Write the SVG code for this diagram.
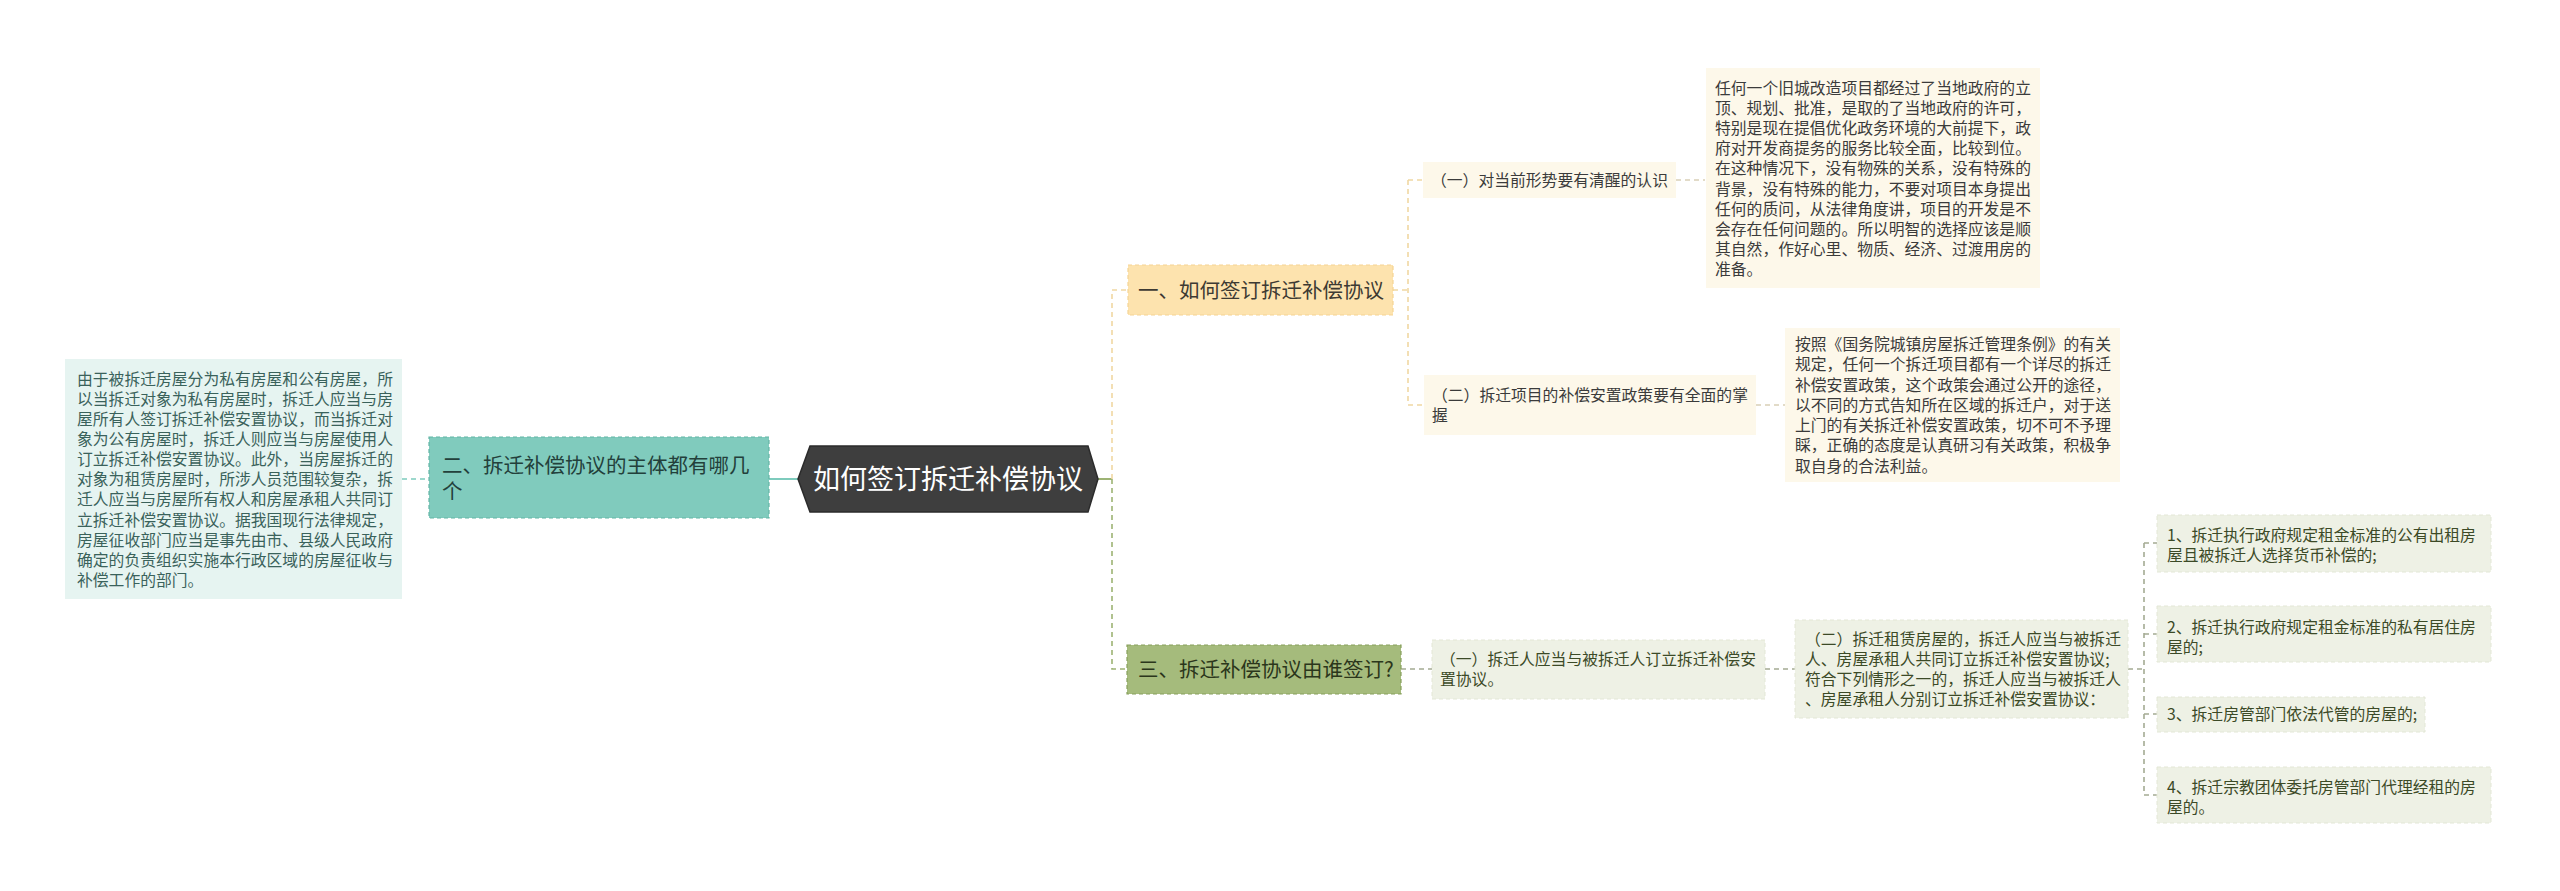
<svg xmlns="http://www.w3.org/2000/svg" width="2560" height="891" viewBox="0 0 2560 891">
<style>
text{font-family:"Noto Sans CJK SC","Noto Sans",sans-serif;}
.t16{font-size:15.8px;}
.t20{font-size:20.5px;}
.c{stroke-width:1.6;fill:none;stroke-dasharray:5,4;}
.or{stroke:#f0d8a2;}
.gr{stroke:#9db374;}
.gy{stroke:#a4ab93;}
.tl{stroke:#7ecbbd;}
.bg{stroke:#d9cfb6;}
.cream{fill:#fdf8ea;}
.olive{fill:#eef1e5;stroke:#e3e7d6;stroke-width:1;stroke-dasharray:4,3;}
.dk{fill:#3b3b3b;}
.od{fill:#3c4a27;}
</style>
<rect width="2560" height="891" fill="#ffffff"/>
<g id="connectors">
  <line x1="769" y1="479" x2="800" y2="479" stroke="#7ecbbd" stroke-width="2"/>
  <line x1="402" y1="479" x2="429" y2="479" class="c tl"/>
  <line x1="1098" y1="479" x2="1112" y2="479" stroke="#9db374" stroke-width="2"/>
  <path d="M1112 479 V290 H1128" class="c or"/>
  <path d="M1112 479 V669 H1127" class="c gr"/>
  <path d="M1393 290 H1408 M1408 180 V405 M1408 180 H1423 M1408 405 H1424" class="c or"/>
  <line x1="1676" y1="180" x2="1705" y2="180" class="c bg"/>
  <line x1="1756" y1="405" x2="1785" y2="405" class="c bg"/>
  <line x1="1401" y1="669" x2="1432" y2="669" class="c gy"/>
  <line x1="1765" y1="669" x2="1795" y2="669" class="c gy"/>
  <path d="M2128 669 H2144 M2144 543 V795 M2144 543 H2157 M2144 634 H2157 M2144 714 H2157 M2144 795 H2157" class="c gy"/>
</g>
<g id="center">
  <polygon points="798,479 810,446 1088,446 1098,479 1088,512 810,512" fill="#3e3e3e" stroke="#2b2b2b" stroke-width="1.5"/>
  <text x="948" y="489" font-size="27" fill="#ffffff" text-anchor="middle">如何签订拆迁补偿协议</text>
</g>
<g id="node-left">
  <rect x="429" y="437" width="340" height="81" fill="#80cbbd" stroke="#62b5a5" stroke-width="1.2" stroke-dasharray="4,3"/>
  <text class="t20" fill="#23403b"><tspan x="442" y="473">二、拆迁补偿协议的主体都有哪几</tspan><tspan x="442" y="499">个</tspan></text>
</g>
<g id="text-left">
  <rect x="65" y="359" width="337" height="240" fill="#e6f4f1"/>
  <text class="t16" fill="#3a625b">
    <tspan x="77" y="385">由于被拆迁房屋分为私有房屋和公有房屋，所</tspan>
    <tspan x="77" y="405">以当拆迁对象为私有房屋时，拆迁人应当与房</tspan>
    <tspan x="77" y="425">屋所有人签订拆迁补偿安置协议，而当拆迁对</tspan>
    <tspan x="77" y="445">象为公有房屋时，拆迁人则应当与房屋使用人</tspan>
    <tspan x="77" y="465">订立拆迁补偿安置协议。此外，当房屋拆迁的</tspan>
    <tspan x="77" y="485">对象为租赁房屋时，所涉人员范围较复杂，拆</tspan>
    <tspan x="77" y="505">迁人应当与房屋所有权人和房屋承租人共同订</tspan>
    <tspan x="77" y="526">立拆迁补偿安置协议。据我国现行法律规定，</tspan>
    <tspan x="77" y="546">房屋征收部门应当是事先由市、县级人民政府</tspan>
    <tspan x="77" y="566">确定的负责组织实施本行政区域的房屋征收与</tspan>
    <tspan x="77" y="586">补偿工作的部门。</tspan>
  </text>
</g>
<g id="branch-1">
  <rect x="1128" y="265" width="265" height="50" fill="#fde3ae" stroke="#f5d493" stroke-width="1.2" stroke-dasharray="4,3"/>
  <text x="1138" y="298" class="t20" fill="#3d3a33">一、如何签订拆迁补偿协议</text>
</g>
<g id="b1-child-1">
  <rect x="1423" y="162" width="253" height="36" class="cream"/>
  <text x="1431" y="186" class="t16 dk">（一）对当前形势要有清醒的认识</text>
</g>
<g id="b1-text-1">
  <rect x="1706" y="68" width="334" height="220" class="cream"/>
  <text class="t16 dk">
    <tspan x="1715" y="94">任何一个旧城改造项目都经过了当地政府的立</tspan>
    <tspan x="1715" y="114">顶、规划、批准，是取的了当地政府的许可，</tspan>
    <tspan x="1715" y="134">特别是现在提倡优化政务环境的大前提下，政</tspan>
    <tspan x="1715" y="154">府对开发商提务的服务比较全面，比较到位。</tspan>
    <tspan x="1715" y="174">在这种情况下，没有物殊的关系，没有特殊的</tspan>
    <tspan x="1715" y="195">背景，没有特殊的能力，不要对项目本身提出</tspan>
    <tspan x="1715" y="215">任何的质问，从法律角度讲，项目的开发是不</tspan>
    <tspan x="1715" y="235">会存在任何问题的。所以明智的选择应该是顺</tspan>
    <tspan x="1715" y="255">其自然，作好心里、物质、经济、过渡用房的</tspan>
    <tspan x="1715" y="275">准备。</tspan>
  </text>
</g>
<g id="b1-child-2">
  <rect x="1424" y="375" width="332" height="60" class="cream"/>
  <text class="t16 dk"><tspan x="1432" y="401">（二）拆迁项目的补偿安置政策要有全面的掌</tspan><tspan x="1432" y="421">握</tspan></text>
</g>
<g id="b1-text-2">
  <rect x="1785" y="328" width="335" height="154" class="cream"/>
  <text class="t16 dk">
    <tspan x="1795" y="350">按照《国务院城镇房屋拆迁管理条例》的有关</tspan>
    <tspan x="1795" y="370">规定，任何一个拆迁项目都有一个详尽的拆迁</tspan>
    <tspan x="1795" y="391">补偿安置政策，这个政策会通过公开的途径，</tspan>
    <tspan x="1795" y="411">以不同的方式告知所在区域的拆迁户，对于送</tspan>
    <tspan x="1795" y="431">上门的有关拆迁补偿安置政策，切不可不予理</tspan>
    <tspan x="1795" y="451">睬，正确的态度是认真研习有关政策，积极争</tspan>
    <tspan x="1795" y="472">取自身的合法利益。</tspan>
  </text>
</g>
<g id="branch-3">
  <rect x="1127" y="645" width="274" height="49" fill="#a5bb7c" stroke="#87a05c" stroke-width="1.2" stroke-dasharray="4,3"/>
  <text x="1138" y="677" class="t20" fill="#2b361b">三、拆迁补偿协议由谁签订?</text>
</g>
<g id="b3-child-1">
  <rect x="1432" y="640" width="333" height="59" class="olive"/>
  <text class="t16 od"><tspan x="1440" y="665">（一）拆迁人应当与被拆迁人订立拆迁补偿安</tspan><tspan x="1440" y="685">置协议。</tspan></text>
</g>
<g id="b3-child-2">
  <rect x="1795" y="620" width="333" height="98" class="olive"/>
  <text class="t16 od">
    <tspan x="1805" y="645">（二）拆迁租赁房屋的，拆迁人应当与被拆迁</tspan>
    <tspan x="1805" y="665">人、房屋承租人共同订立拆迁补偿安置协议;</tspan>
    <tspan x="1805" y="685">符合下列情形之一的，拆迁人应当与被拆迁人</tspan>
    <tspan x="1805" y="705">、房屋承租人分别订立拆迁补偿安置协议：</tspan>
  </text>
</g>
<g id="item-1">
  <rect x="2157" y="515" width="334" height="57" class="olive"/>
  <text class="t16 od"><tspan x="2167" y="541">1、拆迁执行政府规定租金标准的公有出租房</tspan><tspan x="2167" y="561">屋且被拆迁人选择货币补偿的;</tspan></text>
</g>
<g id="item-2">
  <rect x="2157" y="606" width="334" height="56" class="olive"/>
  <text class="t16 od"><tspan x="2167" y="633">2、拆迁执行政府规定租金标准的私有居住房</tspan><tspan x="2167" y="653">屋的;</tspan></text>
</g>
<g id="item-3">
  <rect x="2157" y="697" width="268" height="35" class="olive"/>
  <text x="2167" y="720" class="t16 od">3、拆迁房管部门依法代管的房屋的;</text>
</g>
<g id="item-4">
  <rect x="2157" y="767" width="334" height="56" class="olive"/>
  <text class="t16 od"><tspan x="2167" y="793">4、拆迁宗教团体委托房管部门代理经租的房</tspan><tspan x="2167" y="813">屋的。</tspan></text>
</g>
</svg>
